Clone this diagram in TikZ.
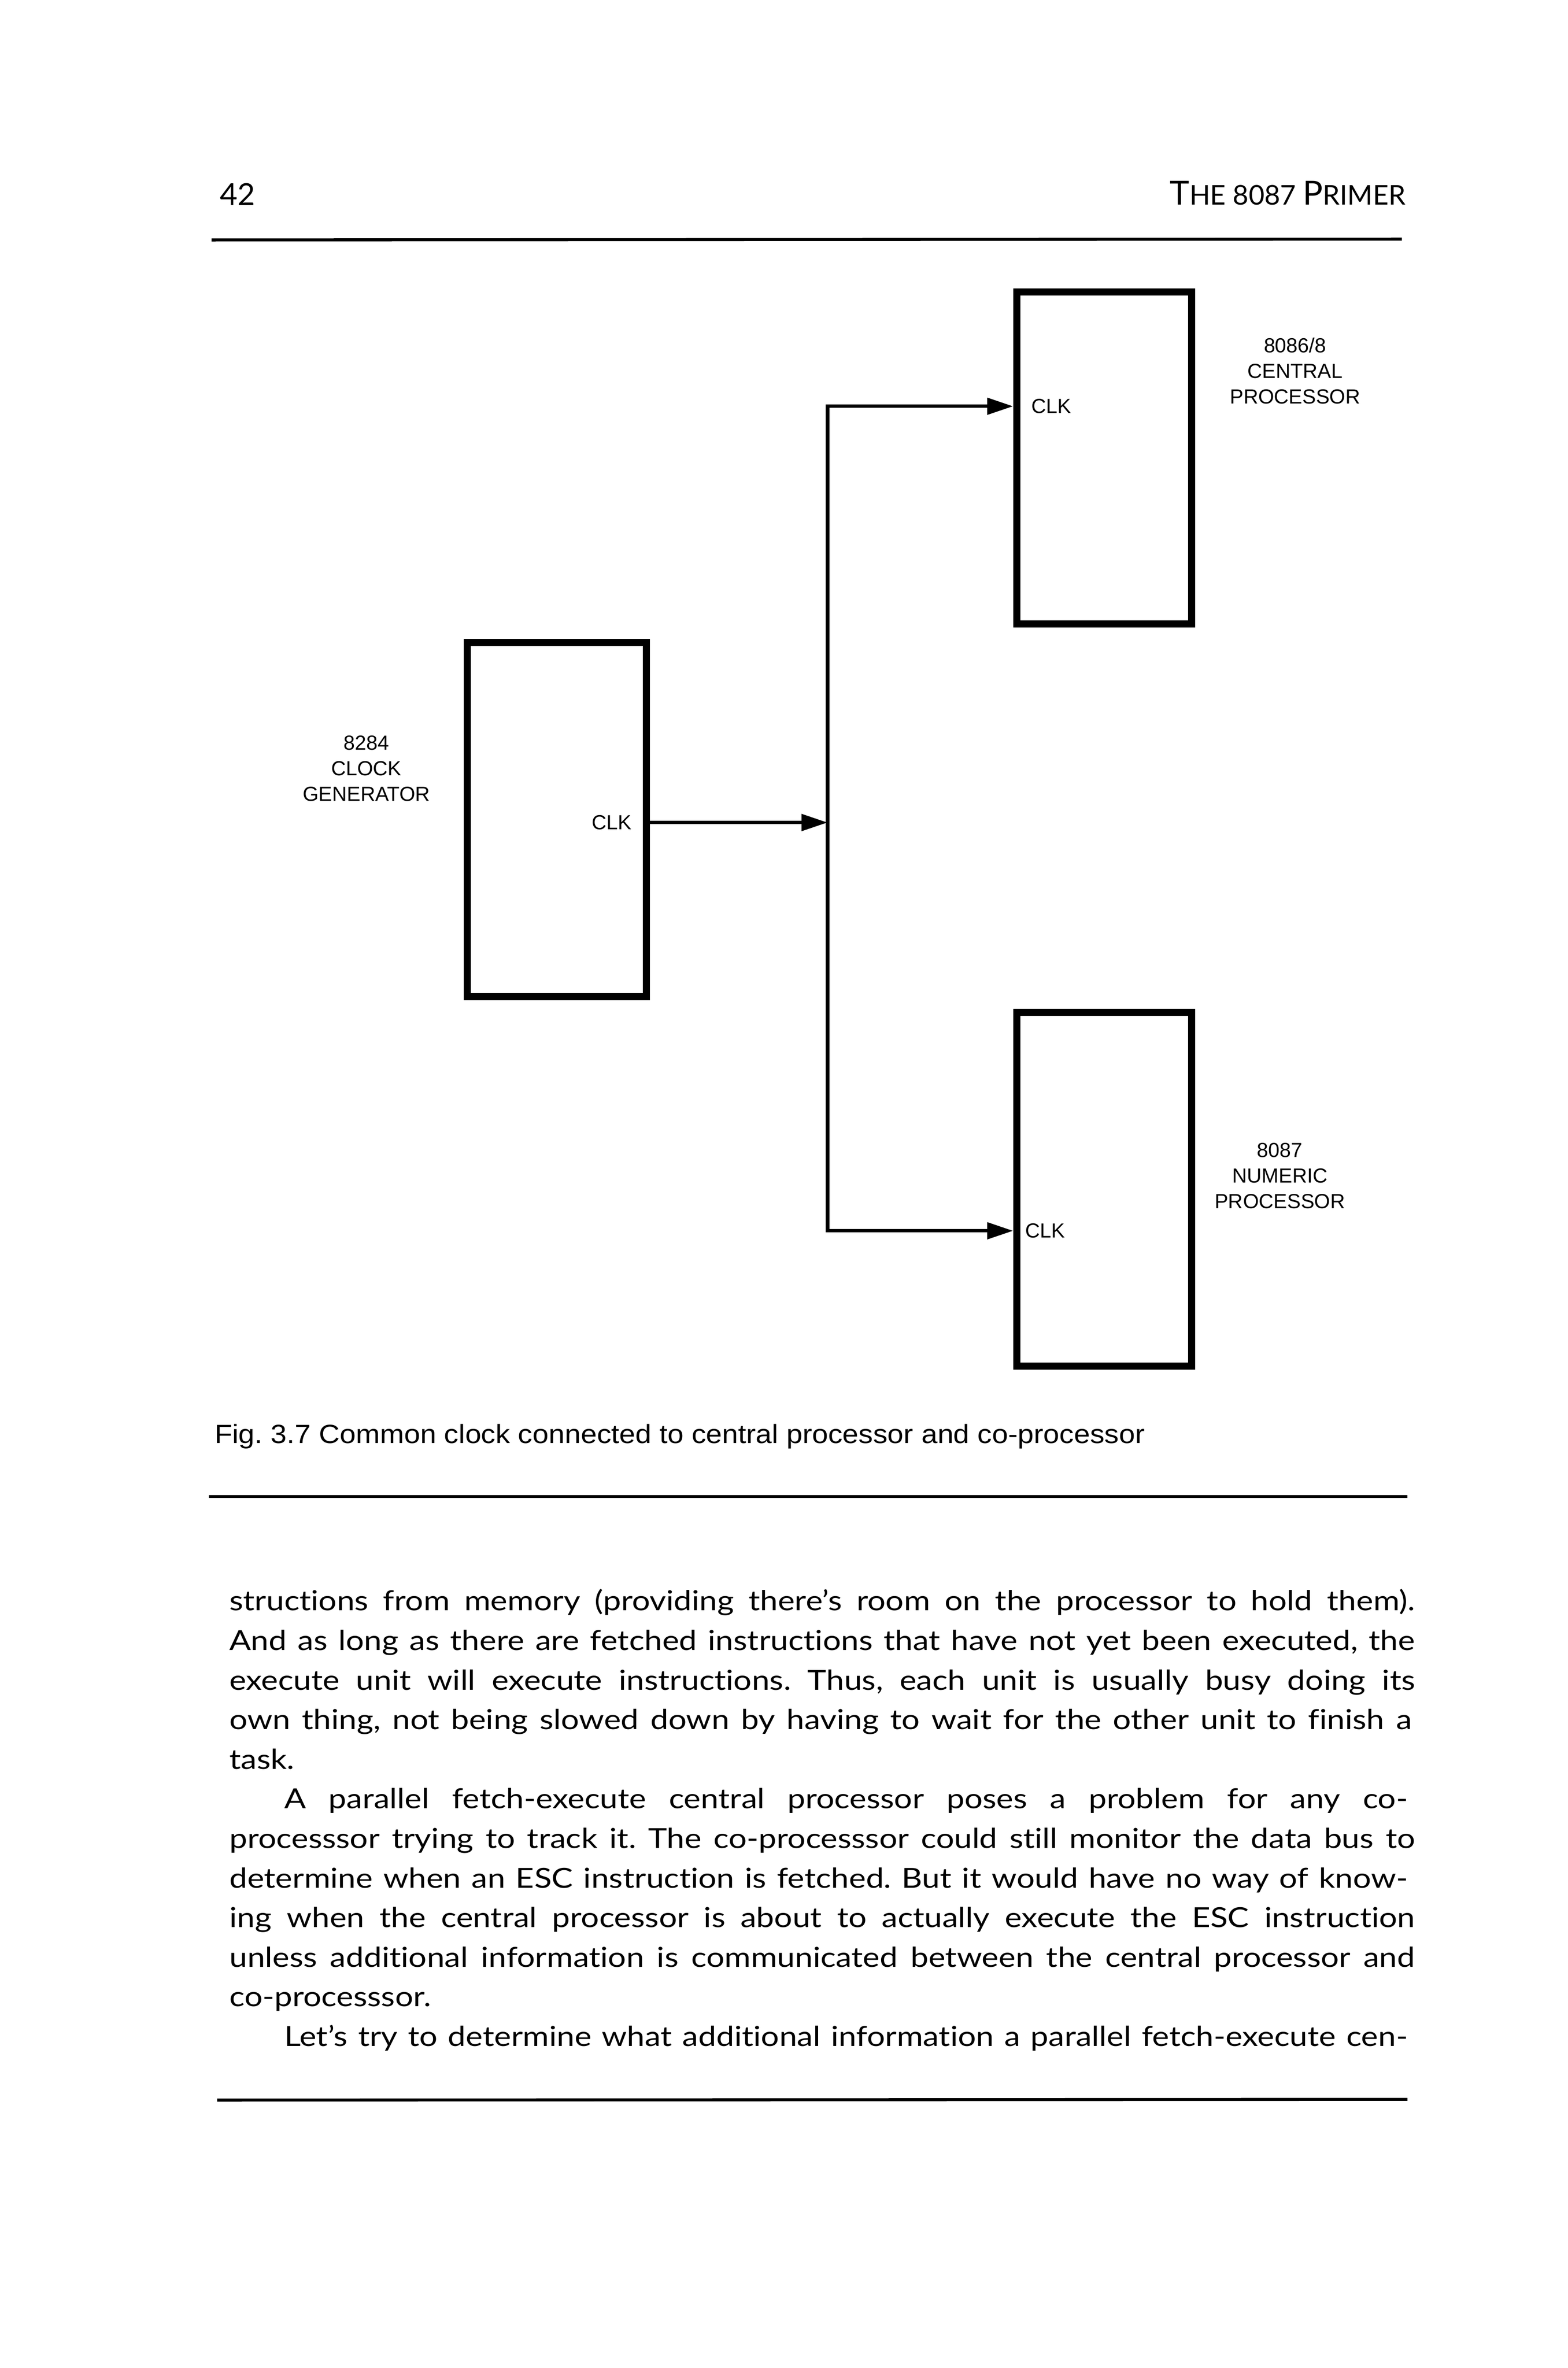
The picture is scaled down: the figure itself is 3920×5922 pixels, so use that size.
\documentclass[tikz,border=0pt]{standalone}
\usepackage{fontspec}
\setmainfont{Lato}[Ligatures=NoCommon]
\newfontfamily\bodyfont{Lato}[Ligatures=NoCommon, FakeStretch=1.16]
\newfontfamily\helv{Liberation Sans}
\newfontfamily\capfont{Liberation Sans}[FakeStretch=1.095]
\usetikzlibrary{arrows.meta}
\newcommand\fullline[2]{\makebox[#1][s]{#2}}
\begin{document}
\begin{tikzpicture}[x=0.3pt,y=-0.3pt,
  box/.style={draw=black, line width=5.4pt, minimum width=131.1pt, inner sep=0pt},
  wire/.style={line width=2.6pt, line join=miter},
  arr/.style={wire, -{Triangle[length=19.5pt,width=12.3pt]}},
  lbl/.style={font=\helv\fontsize{15.3}{19.2}\selectfont, align=center, inner sep=0pt},
  pin/.style={font=\helv\fontsize{15.3}{19.2}\selectfont, inner sep=0pt},
  body/.style={font=\frenchspacing\bodyfont\fontsize{20.7}{29.7}\selectfont, inner sep=0pt, anchor=base west},
  rule/.style={line width=2.25pt}
]
\useasboundingbox (0,0) rectangle (3920,5922);

% header
\node[anchor=base west, inner sep=0pt, font=\fontsize{22.8}{27}\selectfont] (pgno) at (549,513) {42};
\node[anchor=base east, inner sep=0pt] (runhead) at (3515,512)
  {\fontsize{24.9}{27}\selectfont T\fontsize{20.4}{27}\selectfont HE 8087 \fontsize{24.9}{27}\selectfont P\fontsize{20.4}{27}\selectfont RIMER};
\draw[rule] (529,600) -- (3505,598);

% boxes
\node[box, minimum height=249pt] (cpu) at (2760.5,1145) {};
\node[box, minimum width=134.4pt, minimum height=265.8pt] (gen) at (1392,2050) {};
\node[box, minimum height=265.2pt] (npx) at (2760.5,2974) {};

% labels
\node[lbl] (cpuname) at (3238,928) {8086/8\\CENTRAL\\PROCESSOR};
\node[lbl] (genname) at (916,1922) {8284\\CLOCK\\GENERATOR};
\node[lbl] (npxname) at (3200,2940) {8087\\NUMERIC\\PROCESSOR};
\node[pin, anchor=west] (cpuclk) at (2578,1016) {CLK};
\node[pin, anchor=east] (genclk) at (1580,2057) {CLK};
\node[pin, anchor=west] (npxclk) at (2563,3078) {CLK};

% clock bus
\coordinate (busT) at (2069,1016);
\coordinate (busM) at (2069,2057);
\coordinate (busB) at (2069,3078);
\draw[arr] (gen.east |- busM) -- (busM);
\draw[arr] (busM) -- (busT) -- (cpu.west |- busT);
\draw[arr] (busM) -- (busB) -- (npx.west |- busB);

% caption
\node[font=\frenchspacing\capfont\fontsize{19.8}{24}\selectfont, anchor=base west, inner sep=0pt] (cap) at (536,3610)
  {Fig. 3.7 Common clock connected to central processor and co-processor};
\draw[rule] (522,3743) -- (3519,3743);

% body text
\node[body] (l1) at (573,4028) {\fullline{889.2pt}{structions from memory (providing there’s room on the processor to hold them).}};
\node[body] (l2) at (573,4127) {\fullline{889.2pt}{And as long as there are fetched instructions that have not yet been executed, the}};
\node[body] (l3) at (573,4226) {\fullline{889.2pt}{execute unit will execute instructions. Thus, each unit is usually busy doing its}};
\node[body] (l4) at (573,4325) {\fullline{886.8pt}{own thing, not being slowed down by having to wait for the other unit to finish a}};
\node[body] (l5) at (573,4424) {task.};
\node[body] (l6) at (710,4523) {\fullline{842.7pt}{A parallel fetch-execute central processor poses a problem for any co-}};
\node[body] (l7) at (573,4622) {\fullline{889.2pt}{processsor trying to track it. The co-processsor could still monitor the data bus to}};
\node[body] (l8) at (573,4721) {\fullline{883.8pt}{determine when an ESC instruction is fetched. But it would have no way of know-}};
\node[body] (l9) at (573,4820) {\fullline{889.2pt}{ing when the central processor is about to actually execute the ESC instruction}};
\node[body] (l10) at (573,4919) {\fullline{889.2pt}{unless additional information is communicated between the central processor and}};
\node[body] (l11) at (573,5018) {co-processsor.};
\node[body] (l12) at (710,5117) {\fullline{842.7pt}{Let’s try to determine what additional information a parallel fetch-execute cen-}};
\draw[rule] (543,5252) -- (3519,5250);
\end{tikzpicture}
\end{document}
